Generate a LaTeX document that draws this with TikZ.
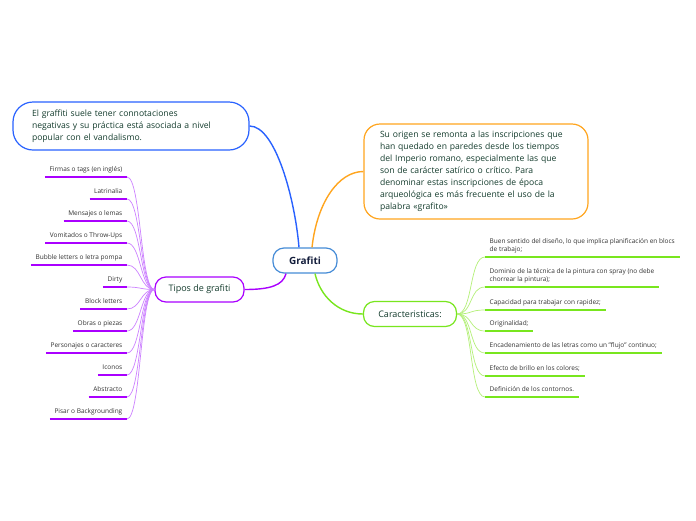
\documentclass[tikz,border=0pt]{standalone}
\usepackage{fontspec}
\setmainfont{Open Sans}
\usepackage{tikz}

\definecolor{bluebr}{RGB}{41,98,255}
\definecolor{centrebr}{RGB}{70,140,215}
\definecolor{orangebr}{RGB}{255,165,30}
\definecolor{purplebr}{RGB}{170,0,255}
\definecolor{purplelt}{RGB}{205,130,255}
\definecolor{greenbr}{RGB}{120,230,30}
\definecolor{greenlt}{RGB}{180,240,120}
\definecolor{maintext}{RGB}{20,60,45}
\definecolor{navytext}{RGB}{20,30,60}
\definecolor{leaftext}{RGB}{50,50,50}
\frenchspacing

\begin{document}
\begin{tikzpicture}[x=1pt,y=-1pt,
  topic/.style={draw,line width=1.2pt,fill=white,text=maintext,inner sep=0pt},
  leaf/.style={text=leaftext,font=\fontsize{6.5}{8.5}\selectfont,inner xsep=4.5pt,inner ysep=2.3pt,align=left,execute at end node=\strut},
  mainlink/.style={line width=1.4pt},
  leaflink/.style={line width=0.7pt}]
\fill[white] (0,0) rectangle (696,520);
\useasboundingbox (0,0) rectangle (696,520);

% centre and main topics
\node[topic,draw=centrebr,rounded corners=11pt,minimum width=64pt,minimum height=25pt,font=\fontsize{10}{12}\selectfont\bfseries,text=navytext] (grafiti) at (305,260.5) {Grafiti};
\node[topic,draw=bluebr,rounded corners=20pt,text width=198pt,inner xsep=19pt,minimum height=48pt,align=left,font=\fontsize{8.6}{12}\selectfont] (negativas) at (131,126) {El graffiti suele tener connotaciones\\negativas y su práctica está asociada a nivel\\popular con el vandalismo.};
\node[topic,draw=orangebr,rounded corners=16pt,text width=192pt,inner xsep=16pt,minimum height=95pt,align=left,font=\fontsize{8.6}{12}\selectfont] (origen) at (476,171.5) {Su origen se remonta a las inscripciones que\\han quedado en paredes desde los tiempos\\del Imperio romano, especialmente las que\\son de carácter satírico o crítico. Para\\denominar estas inscripciones de época\\arqueológica es más frecuente el uso de la\\palabra «grafito»};
\node[topic,draw=purplebr,rounded corners=11pt,minimum width=89pt,minimum height=25pt,font=\fontsize{9}{11}\selectfont] (tipos) at (199.5,289.5) {Tipos de grafiti};
\node[topic,draw=greenbr,rounded corners=11pt,minimum width=93pt,minimum height=25pt,font=\fontsize{9}{11}\selectfont] (carac) at (410,314) {Caracteristicas:};

\draw[mainlink,bluebr] (negativas.east) .. controls +(26,0) and +(-4,-48) .. ([xshift=-6pt]grafiti.north);
\draw[mainlink,orangebr] ([xshift=7pt]grafiti.north) .. controls +(5,-45) and +(-25,0) .. (origen.west);
\draw[mainlink,purplebr] (tipos.east) .. controls +(25,0) and +(-3,12) .. ([xshift=-19pt]grafiti.south);
\draw[mainlink,greenbr] ([xshift=10pt]grafiti.south) .. controls +(5,22) and +(-25,0) .. (carac.west);

% tipos de grafiti
\foreach \txt [count=\i] in {Firmas o tags (en inglés),Latrinalia,Mensajes o lemas,Vomitados o Throw-Ups,Bubble letters o letra pompa,Dirty,Block letters,Obras o piezas,Personajes o caracteres,Iconos,Abstracto,Pisar o Backgrounding}{
  \node[leaf,anchor=south east] (p\i) at (127,{177+22*(\i-1)}) {\txt};
  \draw[leaflink,purplelt] (p\i.south east) .. controls +(14,0) and +(-14,0) .. (tipos.west);
  \draw[line width=1.6pt,purplebr] (p\i.south west) -- (p\i.south east);
}

% caracteristicas
\foreach \y/\txt [count=\i] in {257/{Buen sentido del diseño, lo que implica planificación en blocs\\de trabajo;},287/{Dominio de la técnica de la pintura con spray (no debe\\chorrear la pintura);},310/{Capacidad para trabajar con rapidez;},331/{Originalidad;},353/{Encadenamiento de las letras como un "flujo" continuo;},376/{Efecto de brillo en los colores;},397/{Definición de los contornos.}}{
  \node[leaf,anchor=south west] (r\i) at (485,\y) {\txt};
  \draw[leaflink,greenlt] (carac.east) .. controls +(16,0) and +(-16,0) .. (r\i.south west);
  \draw[line width=1.6pt,greenbr] (r\i.south west) -- (r\i.south east);
}
\end{tikzpicture}
\end{document}
